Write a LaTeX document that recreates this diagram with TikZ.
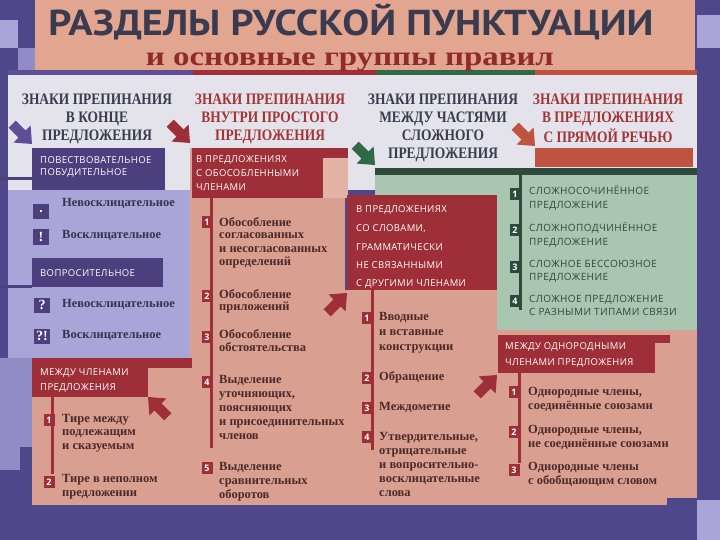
\documentclass[tikz,border=0pt]{standalone}
\usepackage{fontspec}
\setmainfont{Liberation Serif}
\setsansfont{Open Sans}
\newfontfamily\hdrfont[FakeStretch=0.84]{Liberation Serif}
\newfontfamily\boxfont[LetterSpace=4]{Open Sans}
\newfontfamily\ttlfont{PT Sans}
\definecolor{framec}{HTML}{4E4789}
\definecolor{dpurple}{HTML}{4B3F7D}
\definecolor{lav}{HTML}{AAA5D8}
\definecolor{lavd}{HTML}{928CC6}
\definecolor{peach}{HTML}{D9A092}
\definecolor{lpeach}{HTML}{E3B3A5}
\definecolor{salmon}{HTML}{E2A590}
\definecolor{dred}{HTML}{9E2E38}
\definecolor{dgreen}{HTML}{2E4A3C}
\definecolor{lgreen}{HTML}{A8C6B0}
\definecolor{hgray}{HTML}{E4E3EC}
\definecolor{ored}{HTML}{BF533F}
\definecolor{slate}{HTML}{3A3B4E}
\definecolor{hred}{HTML}{A33434}
\definecolor{itbrown}{HTML}{4D2828}
\definecolor{itslate}{HTML}{35334F}
\definecolor{subred}{HTML}{8E2B2B}
\definecolor{agreen}{HTML}{2F6A45}
\definecolor{apurple}{HTML}{5D4F96}
\newcommand\mlc[1]{\begin{tabular}[t]{@{}c@{}}#1\end{tabular}}
\newcommand\mll[1]{\begin{tabular}[t]{@{}l@{}}#1\end{tabular}}
\begin{document}
\begin{tikzpicture}[x=1pt,y=-1pt,
 hdr/.style={anchor=base, inner sep=0, font=\hdrfont\bfseries\fontsize{16}{18}\selectfont},
 btxt/.style={anchor=base west, inner sep=0, text=white, font=\boxfont\fontsize{9.5}{#1}\selectfont},
 gtxt/.style={anchor=base west, inner sep=0, text=dgreen, font=\boxfont\fontsize{10}{13.5}\selectfont},
 itm/.style={anchor=base west, inner sep=0, text=itbrown, font=\bfseries\fontsize{12.5}{#1}\selectfont},
 sq/.style={fill=#1, minimum width=11pt, minimum height=12pt, inner sep=0, text=white, font=\sffamily\bfseries\fontsize{9}{9}\selectfont},
 ssq/.style={fill=dpurple, minimum width=16pt, minimum height=15pt, inner sep=0, text=white, font=\bfseries\fontsize{14}{14}\selectfont},
 box/.style={fill=#1, inner sep=0, anchor=north west},
 vl/.style={draw=#1, line width=3pt},
 pics/arr/.style={code={\fill[#1] (0,0) -- (-14,-12) -- (-14,-5) -- (-28,-5) -- (-28,5) -- (-14,5) -- (-14,12) -- cycle;}}
]
\useasboundingbox (0,0) rectangle (720,540);
% ---------- backgrounds ----------
\fill[framec] (0,0) rectangle (720,540);
\fill[lav] (0,20) rectangle (18,48);
\fill[lavd] (18,48) rectangle (35,70);
\fill[lav] (697,15) rectangle (720,48);
\fill[salmon] (35,0) rectangle (695,70);
\fill[apurple] (8,70) rectangle (193,75);
\fill[dred] (193,70) rectangle (376,75);
\fill[agreen] (376,70) rectangle (535,75);
\fill[ored] (535,70) rectangle (697,75);
\fill[hgray] (8,75) rectangle (697,190);
\fill[lav] (8,190) rectangle (190,358);
\fill[lavd] (0,358) rectangle (32,447);
\fill[peach] (190,148) rectangle (345,505);
\fill[peach] (32,358) rectangle (190,505);
\fill[lgreen] (375,168) rectangle (697,330);
\fill[dgreen] (375,168) rectangle (697,175);
\fill[peach] (345,290) rectangle (497,505);
\fill[peach] (497,330) rectangle (697,498);
\fill[peach] (497,498) rectangle (667,505);
\fill[ored] (535,148) rectangle (693,167);
\fill[lav] (697,500) rectangle (720,540);
\fill[lavd] (0,447) rectangle (20,470);
% ---------- title ----------
\node[anchor=base, inner sep=0, text=slate] (title) at (351,36)
  {\resizebox{605pt}{\height}{\ttlfont\bfseries\fontsize{36}{36}\selectfont РАЗДЕЛЫ РУССКОЙ ПУНКТУАЦИИ}};
\node[anchor=base, inner sep=0, text=subred] (subtitle) at (350,66)
  {\resizebox{408pt}{\height}{\bfseries\fontsize{27}{27}\selectfont и основные группы правил}};
% ---------- headers ----------
\node[hdr, text=slate] (h1) at (97,105) {\mlc{ЗНАКИ ПРЕПИНАНИЯ\\В КОНЦЕ\\ПРЕДЛОЖЕНИЯ}};
\node[hdr, text=hred] (h2) at (270,105) {\mlc{ЗНАКИ ПРЕПИНАНИЯ\\ВНУТРИ ПРОСТОГО\\ПРЕДЛОЖЕНИЯ}};
\node[hdr, text=slate] (h3) at (443,105) {\mlc{ЗНАКИ ПРЕПИНАНИЯ\\МЕЖДУ ЧАСТЯМИ\\СЛОЖНОГО\\ПРЕДЛОЖЕНИЯ}};
\node[hdr, text=hred] (h4) at (608,105) {\mlc{ЗНАКИ ПРЕПИНАНИЯ\\В ПРЕДЛОЖЕНИЯХ\\С ПРЯМОЙ РЕЧЬЮ}};
\pic[rotate=-45] at (32,144) {arr=apurple};
\pic[rotate=-45] at (190,143) {arr=dred};
\pic[rotate=-45] at (375,165) {arr=agreen};
\pic[rotate=-45] at (535,146) {arr=ored};
% ---------- column 1 ----------
\node[box=dpurple, minimum width=133pt, minimum height=42pt] (pb1) at (32,148) {};
\node[btxt=12] (pb1t) at (40,164) {\mll{ПОВЕСТВОВАТЕЛЬНОЕ\\ПОБУДИТЕЛЬНОЕ}};
\coordinate (L1) at (0,179);
\draw[dpurple, line width=3pt] (L1) -- (L1 -| pb1.west);
\node[ssq] (s11) at (41,212) {.};
\node[ssq] (s12) at (41,237) {!};
\node[itm=13.5, text=itslate] (t11) at (62,207) {Невосклицательное};
\node[itm=13.5, text=itslate] (t12) at (62,238) {Восклицательное};
\node[box=dpurple, minimum width=131pt, minimum height=29pt] (pb2) at (32,258) {};
\node[btxt=12] (pb2t) at (40,276) {ВОПРОСИТЕЛЬНОЕ};
\coordinate (L2) at (0,286);
\draw[dpurple, line width=3pt] (L2) -- (L2 -| pb2.west);
\node[ssq] (s13) at (42,305) {?};
\node[ssq] (s14) at (42,336) {?!};
\node[itm=13.5, text=itslate] (t13) at (62,307) {Невосклицательное};
\node[itm=13.5, text=itslate] (t14) at (62,338) {Восклицательное};
% lower part
\node[box=dred, minimum width=160pt, minimum height=10pt] (rb1s) at (32,358) {};
\node[box=dred, minimum width=116pt, minimum height=39pt] (rb1) at (32,358) {};
\node[btxt=15] (rb1t) at (40,375) {\mll{МЕЖДУ ЧЛЕНАМИ\\ПРЕДЛОЖЕНИЯ}};
\coordinate (v1a) at (52,397);
\coordinate (v1b) at (52,474);
\draw[vl=dred] (v1a) -- (v1b);
\node[sq=dred] (n11) at (49,420) {1};
\node[sq=dred] (n12) at (49,482) {2};
\node[itm=13.5] (t15) at (62,422) {\mll{Тире между\\подлежащим\\и сказуемым}};
\node[itm=14] (t16) at (62,482) {\mll{Тире в неполном\\предложении}};
\pic[rotate=135] at (148,397) {arr=dred};
% ---------- column 2 ----------
\node[box=dred, minimum width=156pt, minimum height=10pt] (rb2s) at (192,148) {};
\node[box=dred, minimum width=131pt, minimum height=50pt] (rb2) at (192,148) {};
\node[box=lpeach, minimum width=25pt, minimum height=40pt] (rb2q) at (323,158) {};
\node[btxt=14] (rb2t) at (196,163) {\mll{В ПРЕДЛОЖЕНИЯХ\\С ОБОСОБЛЕННЫМИ\\ЧЛЕНАМИ}};
\coordinate (v2a) at (211,198);
\coordinate (v2b) at (211,448);
\draw[vl=dred] (v2a) -- (v2b);
\node[sq=dred] (n21) at (207,222) {1};
\node[sq=dred] (n22) at (207,296) {2};
\node[sq=dred] (n23) at (207,337) {3};
\node[sq=dred] (n24) at (207,382) {4};
\node[sq=dred] (n25) at (207,468) {5};
\node[itm=13] (t21) at (219,226) {\mll{Обособление\\согласованных\\и несогласованных\\определений}};
\node[itm=13] (t22) at (219,298) {\mll{Обособление\\приложений}};
\node[itm=13] (t23) at (219,338) {\mll{Обособление\\обстоятельства}};
\node[itm=14] (t24) at (219,383) {\mll{Выделение\\уточняющих,\\поясняющих\\и присоединительных\\членов}};
\node[itm=14] (t25) at (219,470) {\mll{Выделение\\сравнительных\\оборотов}};
\pic[rotate=45] at (347,293) {arr=dred};
% ---------- column 3 ----------
\node[box=dred, minimum width=150pt, minimum height=95pt] (rb3) at (347,195) {};
\node[btxt=18.5] (rb3t) at (356,213) {\mll{В ПРЕДЛОЖЕНИЯХ\\СО СЛОВАМИ,\\ГРАММАТИЧЕСКИ\\НЕ СВЯЗАННЫМИ\\С ДРУГИМИ ЧЛЕНАМИ}};
\coordinate (v3a) at (372,290);
\coordinate (v3b) at (372,450);
\draw[vl=dred] (v3a) -- (v3b);
\node[sq=dred] (n31) at (367,318) {1};
\node[sq=dred] (n32) at (367,378) {2};
\node[sq=dred] (n33) at (367,408) {3};
\node[sq=dred] (n34) at (367,437) {4};
\node[itm=15] (t31) at (379,320) {\mll{Вводные\\и вставные\\конструкции}};
\node[itm=14] (t32) at (379,380) {Обращение};
\node[itm=14] (t33) at (379,410) {Междометие};
\node[itm=14] (t34) at (379,440) {\mll{Утвердительные,\\отрицательные\\и вопросительно-\\восклицательные\\слова}};
\pic[rotate=45] at (497,375) {arr=dred};
% ---------- column 4 ----------
\coordinate (v4a) at (520,175);
\coordinate (v4b) at (520,310);
\draw[vl=dgreen] (v4a) -- (v4b);
\node[sq=dgreen] (n41) at (515,194) {1};
\node[sq=dgreen] (n42) at (515,230) {2};
\node[sq=dgreen] (n43) at (515,267) {3};
\node[sq=dgreen] (n44) at (515,301) {4};
\node[gtxt] (t41) at (529,195) {\mll{СЛОЖНОСОЧИНЁННОЕ\\ПРЕДЛОЖЕНИЕ}};
\node[gtxt] (t42) at (529,232) {\mll{СЛОЖНОПОДЧИНЁННОЕ\\ПРЕДЛОЖЕНИЕ}};
\node[gtxt] (t43) at (529,267) {\mll{СЛОЖНОЕ БЕССОЮЗНОЕ\\ПРЕДЛОЖЕНИЕ}};
\node[gtxt] (t44) at (529,302) {\mll{СЛОЖНОЕ ПРЕДЛОЖЕНИЕ\\С РАЗНЫМИ ТИПАМИ СВЯЗИ}};
% ---------- column 5 ----------
\node[box=dred, minimum width=172pt, minimum height=8pt] (rb5s) at (498,335) {};
\node[box=dred, minimum width=157pt, minimum height=38pt] (rb5) at (498,335) {};
\node[btxt=16] (rb5t) at (505,349) {\mll{МЕЖДУ ОДНОРОДНЫМИ\\ЧЛЕНАМИ ПРЕДЛОЖЕНИЯ}};
\coordinate (v5a) at (519,373);
\coordinate (v5b) at (519,463);
\draw[vl=dred] (v5a) -- (v5b);
\node[sq=dred] (n51) at (514,392) {1};
\node[sq=dred] (n52) at (514,432) {2};
\node[sq=dred] (n53) at (514,470) {3};
\node[itm=14] (t51) at (528,395) {\mll{Однородные члены,\\соединённые союзами}};
\node[itm=14] (t52) at (528,433) {\mll{Однородные члены,\\не соединённые союзами}};
\node[itm=14] (t53) at (528,470) {\mll{Однородные члены\\с обобщающим словом}};
\end{tikzpicture}
\end{document}
